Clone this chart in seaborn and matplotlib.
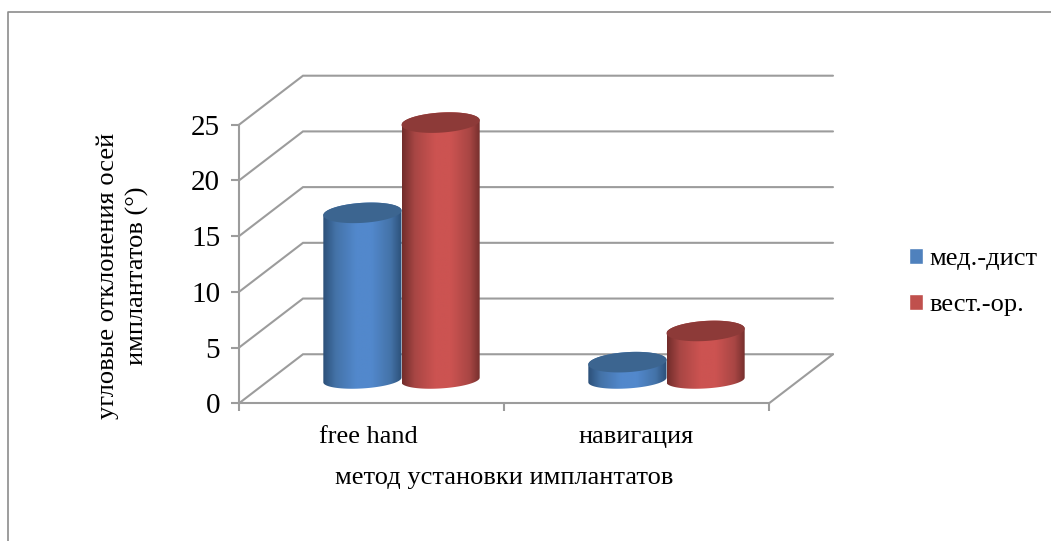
import numpy as np
import pandas as pd
import seaborn as sns
import matplotlib.pyplot as plt
from matplotlib.colors import LinearSegmentedColormap
from matplotlib.lines import Line2D
from matplotlib.path import Path

methods = ['free hand', 'навигация']
series_names = ['мед.-дист', 'вест.-ор.']
med_dist = [15.0, 1.6]
vest_or = [23.1, 4.4]
y_ticks = [0, 5, 10, 15, 20, 25]

W, H = 1051, 541
GRAY = '#9c9c9c'
# shading: (dark edge, half tone, bright middle, cap)
SHADES = [('#2c5079', '#4473a8', '#5288cc', '#3c6590'),
          ('#722d2b', '#a84644', '#cc5351', '#8d3a38')]

sns.set_theme(style='white')
plt.rcParams['font.family'] = ['Liberation Serif', 'DejaVu Serif']


def ellipse_xy(xc, yc, a, b, tilt, t):
    return xc + a * np.cos(t), yc + tilt * np.cos(t) + b * np.sin(t)


def draw_cylinder(ax, bar, dx, dy, colors, z):
    xc = bar.get_x() + bar.get_width() / 2 + dx
    a = bar.get_width() / 2
    y0, y1 = dy, dy + bar.get_height()
    low = np.linspace(np.pi, 2 * np.pi, 60)
    up = np.linspace(0, np.pi, 60)
    bx, by = ellipse_xy(xc, y0, a, 0.76, 0.21, low)
    tx, ty = ellipse_xy(xc, y1, a, 0.9, 0.21, up)
    body = Path(np.vstack([np.c_[bx, by], np.c_[tx, ty], [bx[0], by[0]]]), closed=True)
    cmap = LinearSegmentedColormap.from_list('cyl', [
        (0, colors[0]), (0.16, colors[1]), (0.42, colors[2]), (0.62, colors[2]),
        (0.86, colors[1]), (1, colors[0])])
    grad = np.linspace(0, 1, 128).reshape(1, -1)
    im = ax.imshow(grad, cmap=cmap, aspect='auto', zorder=z, interpolation='bilinear',
                   extent=[xc - a, xc + a, y0 - 1.5, y1 + 1.5])
    im.set_clip_path(body, ax.transData)
    all_t = np.linspace(0, 2 * np.pi, 120)
    cx, cy = ellipse_xy(xc, y1, a, 0.9, 0.21, all_t)
    ax.fill(cx, cy, color=colors[3], lw=0, zorder=z + 0.5)


def main():
    fig = plt.figure(figsize=(W / 100, H / 100), dpi=100)

    # axes box covers front plane plus the depth of the 3D walls
    ax = fig.add_axes([239 / W, 1 - 403.3 / H, (833 - 239) / W, (403.3 - 75.7) / H])
    xlim = (-0.5, 1.5 + 64 / 265)
    ylim = (0, 25 + 49 / 11.13)

    df = pd.DataFrame({
        'method': methods * 2,
        'series': [series_names[0]] * 2 + [series_names[1]] * 2,
        'value': med_dist + vest_or,
    })
    sns.barplot(data=df, x='method', y='value', hue='series', width=0.59, gap=0,
                saturation=1, palette=['#4f81bd', '#c0504d'], ax=ax)

    # walls and floor
    back_x = 64 / 265
    back_y = 49 / 11.13
    for v in y_ticks:
        ax.plot([-0.5, -0.5 + back_x, 1.5 + back_x], [v, v + back_y, v + back_y],
                color=GRAY, lw=1.5, zorder=1, solid_joinstyle='miter', clip_on=False)
    ax.plot([1.5, 1.5 + back_x], [0, back_y], color=GRAY, lw=1.5, zorder=1, clip_on=False)

    # bars become cylinders standing in the middle of the floor depth
    z = 3
    for container, colors in zip(ax.containers, SHADES):
        for bar in container:
            draw_cylinder(ax, bar, 30 / 265, 23.3 / 11.13, colors, z)
            bar.set_visible(False)
            z += 1

    ax.set_xlim(xlim)
    ax.set_ylim(ylim)
    ax.patch.set_alpha(0)

    for side in ['top', 'right']:
        ax.spines[side].set_visible(False)
    for side in ['left', 'bottom']:
        ax.spines[side].set_color(GRAY)
        ax.spines[side].set_linewidth(1.5)
    ax.spines['left'].set_bounds(0, 25)
    ax.spines['bottom'].set_bounds(-0.5, 1.5)

    ax.set_yticks(y_ticks)
    ax.tick_params(axis='y', left=True, length=5.5, width=1.5, color=GRAY,
                   labelsize=21, labelcolor='black', pad=8)
    ax.set_xticks([-0.5, 0.5, 1.5])
    ax.set_xticklabels([])
    ax.set_xticks([-0.01, 1], labels=methods, minor=True)
    ax.tick_params(axis='x', which='major', bottom=True, length=6, width=1.5, color=GRAY)
    ax.tick_params(axis='x', which='minor', bottom=False, length=0, labelsize=19,
                   labelcolor='black', pad=16)

    ax.set_xlabel('метод установки имплантатов', fontsize=19, color='black')
    ax.xaxis.set_label_coords(504 / W, 1 - 467 / H, transform=fig.transFigure)
    ax.set_ylabel('угловые отклонения осей\nимплантатов (°)', fontsize=19,
                  color='black', linespacing=1.4)
    ax.yaxis.set_label_coords(149 / W, 1 - 276 / H, transform=fig.transFigure)

    sns.move_legend(ax, 'upper left', bbox_to_anchor=(909 / W, 1 - 248 / H),
                    bbox_transform=fig.transFigure, frameon=False, title=None,
                    fontsize=19, handlelength=0.53, handleheight=0.53, borderpad=0,
                    borderaxespad=0, handletextpad=0.25, labelspacing=0.91,
                    labelcolor='black')

    # outer chart frame, only partly visible in the crop
    fig.add_artist(Line2D([7.5 / W, 7.5 / W, 1], [0, 1 - 11.7 / H, 1 - 11.7 / H],
                          color='#8c8c8c', lw=1.2))

    fig.savefig('out.png', dpi=100)


if __name__ == "__main__":
    main()
